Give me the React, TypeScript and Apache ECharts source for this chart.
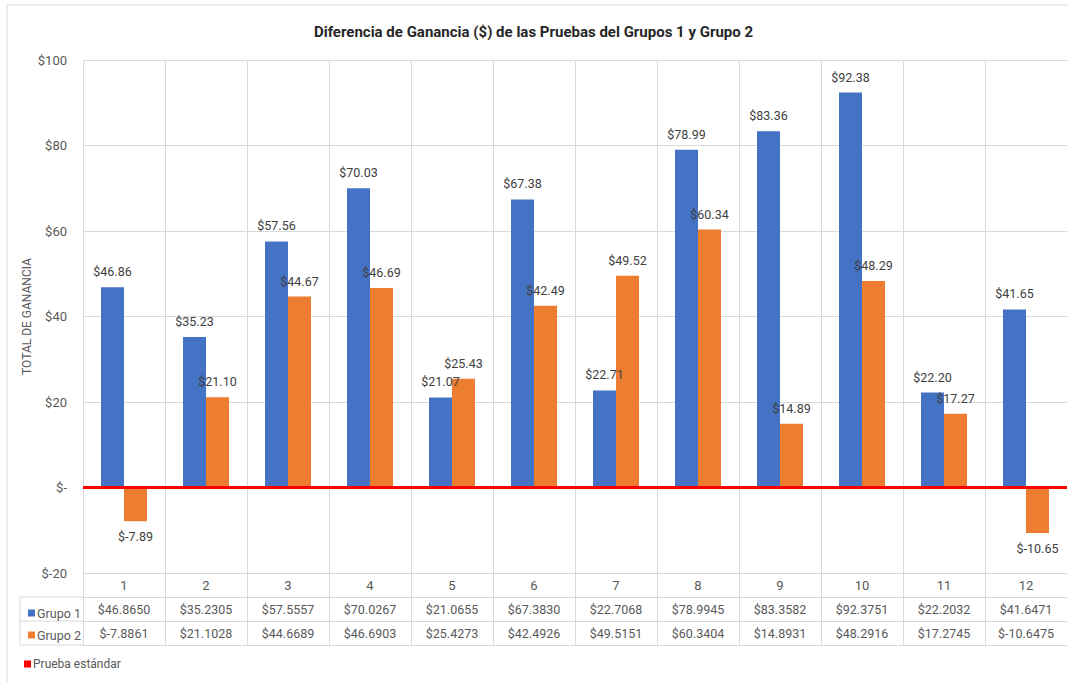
import React, { useEffect, useRef } from "react";
import * as echarts from "echarts";

const categories = ["1", "2", "3", "4", "5", "6", "7", "8", "9", "10", "11", "12"];
const grupo1 = [46.86496, 35.2305, 57.5557, 70.0267, 21.0655, 67.383, 22.7068, 78.9945, 83.3582, 92.3751, 22.2032, 41.6471];
const grupo2 = [-7.8861, 21.1028, 44.6689, 46.6903, 25.4273, 42.4926, 49.5151, 60.3404, 14.8931, 48.2916, 17.2745, -10.6475];
const standardLevel = 0;
const yMin = -20;
const yMax = 100;
const yInterval = 20;

const title = "Diferencia de Ganancia ($) de las Pruebas del Grupos 1 y Grupo 2";
const yName = "TOTAL DE GANANCIA";

const FONT = "Roboto, 'Liberation Sans', sans-serif";
const GRID = "#d9d9d9";
const TXT = "#595959";

const fmt2 = (v: number) => `$${v.toFixed(2)}`;
const fmt4 = (v: number) => `$${v.toFixed(4)}`;

export default function App() {
  const ref = useRef<HTMLDivElement>(null);
  useEffect(() => {
    if (!ref.current) return;
    const chart = echarts.init(ref.current, undefined, { renderer: "svg" });

    const barData = (arr: number[]) =>
      arr.map((v) => ({
        value: v,
        label: { position: v < 0 ? "bottom" : "top" },
      }));

    const tableAxis = (offset: number, values: number[] | null) => ({
      type: "category",
      data: categories,
      position: "bottom",
      offset,
      axisLine: { show: true, onZero: false, lineStyle: { color: GRID, width: 1 } },
      axisTick: { show: values !== null, length: 24, lineStyle: { color: GRID } },
      axisLabel: {
        show: values !== null,
        margin: 6,
        fontSize: 12.5,
        fontFamily: FONT,
        color: TXT,
        formatter: (_: string, idx: number) => (values ? fmt4(values[idx]) : ""),
      },
      splitLine: { show: false },
    });

    const option: any = {
      animation: false,
      title: {
        text: title,
        left: "center",
        top: 19,
        textStyle: { fontFamily: FONT, fontSize: 15, fontWeight: "bold", color: "#262626" },
      },
      graphic: [
        {
          type: "rect",
          shape: { x: 7, y: 5, width: 1100, height: 700 },
          style: { fill: "none", stroke: GRID, lineWidth: 1 },
          silent: true,
        },
        { type: "line", shape: { x1: 20, y1: 597, x2: 83, y2: 597 }, style: { stroke: GRID, lineWidth: 1 } },
        { type: "line", shape: { x1: 20, y1: 621, x2: 83, y2: 621 }, style: { stroke: GRID, lineWidth: 1 } },
        { type: "line", shape: { x1: 20, y1: 645, x2: 83, y2: 645 }, style: { stroke: GRID, lineWidth: 1 } },
        { type: "line", shape: { x1: 20, y1: 597, x2: 20, y2: 645 }, style: { stroke: GRID, lineWidth: 1 } },
      ],
      legend: [
        {
          data: ["Grupo 1", "Grupo 2"],
          orient: "vertical",
          left: 23,
          top: 601,
          icon: "rect",
          itemWidth: 7,
          itemHeight: 7,
          itemGap: 8,
          textStyle: { fontFamily: FONT, fontSize: 12.5, color: TXT, padding: [0, 0, 0, -3], lineHeight: 14 },
        },
        {
          data: ["Prueba estándar"],
          orient: "vertical",
          left: 19,
          top: 653,
          icon: "rect",
          itemWidth: 7,
          itemHeight: 7,
          textStyle: { fontFamily: FONT, fontSize: 12, color: TXT, padding: [0, 0, 0, -3] },
        },
      ],
      grid: { left: 83, right: -2, top: 60, bottom: 109, containLabel: false },
      xAxis: [
        {
          type: "category",
          data: categories,
          position: "bottom",
          axisLine: { show: true, onZero: false, lineStyle: { color: GRID, width: 1 } },
          axisTick: { show: true, length: 24, lineStyle: { color: GRID } },
          axisLabel: { margin: 6, fontSize: 13, fontFamily: FONT, color: TXT },
          splitLine: { show: true, lineStyle: { color: GRID, width: 1 } },
        },
        tableAxis(24, grupo1),
        tableAxis(48, grupo2),
        tableAxis(72, null),
      ],
      yAxis: {
        type: "value",
        min: yMin,
        max: yMax,
        interval: yInterval,
        name: yName,
        nameLocation: "middle",
        nameGap: 50,
        nameMoveOverlap: false,
        nameTextStyle: { fontFamily: FONT, fontSize: 12, color: TXT },
        axisLine: { show: false },
        axisTick: { show: false },
        axisLabel: {
          margin: 16,
          fontSize: 13,
          fontFamily: FONT,
          color: TXT,
          formatter: (v: number) => (v === 0 ? "$-" : `$${v}`),
        },
        splitLine: { show: true, lineStyle: { color: GRID, width: 1 } },
      },
      series: [
        {
          name: "Grupo 1",
          type: "bar",
          xAxisIndex: 0,
          data: barData(grupo1),
          barWidth: 23,
          barGap: "0%",
          itemStyle: { color: "#4472C4" },
          label: {
            show: true,
            distance: 9,
            fontSize: 12.5,
            fontFamily: FONT,
            color: "#404040",
            formatter: (p: any) => fmt2(p.value),
          },
        },
        {
          name: "Grupo 2",
          type: "bar",
          xAxisIndex: 0,
          data: barData(grupo2),
          barWidth: 23,
          barGap: "0%",
          itemStyle: { color: "#ED7D31" },
          label: {
            show: true,
            distance: 9,
            fontSize: 12.5,
            fontFamily: FONT,
            color: "#404040",
            formatter: (p: any) => fmt2(p.value),
          },
        },
        {
          name: "Prueba estándar",
          type: "line",
          xAxisIndex: 0,
          data: [],
          itemStyle: { color: "#FF0000" },
          lineStyle: { color: "#FF0000" },
          markLine: {
            silent: true,
            symbol: "none",
            label: { show: false },
            lineStyle: { color: "#FF0000", width: 3, type: "solid" },
            data: [{ yAxis: standardLevel }],
          },
          z: 5,
        },
      ],
    };
    chart.setOption(option);
    return () => chart.dispose();
  }, []);

  return (
    <div
      ref={ref}
      style={{ position: "absolute", left: 0, top: 0, width: 1067, height: 682, background: "#fff" }}
    />
  );
}
